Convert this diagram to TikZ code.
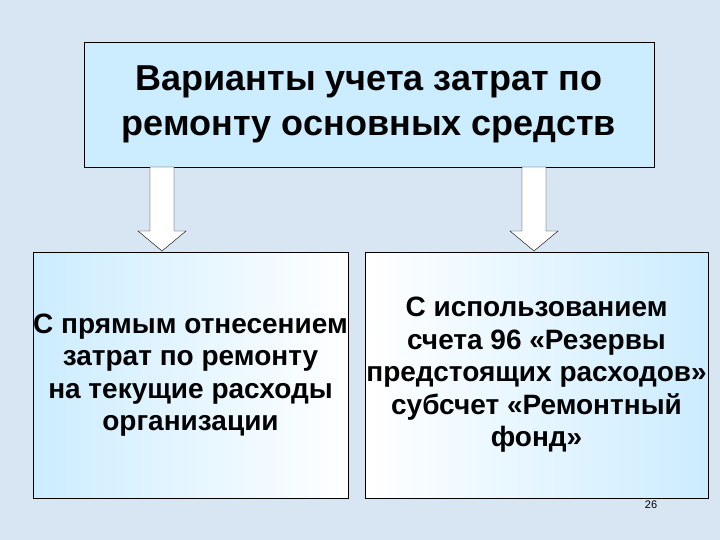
\documentclass[tikz,border=0pt]{standalone}
\usepackage{fontspec}
\setmainfont{Liberation Sans}
\usetikzlibrary{calc, positioning}

\definecolor{slidebg}{RGB}{216,230,244}
\definecolor{boxblue}{RGB}{204,236,255}

\tikzset{
  titlebox/.style={draw=black, fill=boxblue, minimum width=570pt, minimum height=125pt,
    align=center, font=\fontsize{36}{45}\selectfont\bfseries},
  variantbox/.style={draw=black, minimum height=246pt, align=center, inner xsep=0pt,
    font=\fontsize{28}{32.5}\selectfont\bfseries},
  blockarrow/.style={draw=black, fill=white, line join=miter}
}

\begin{document}
\begin{tikzpicture}[x=1pt, y=-1pt]
% Slide background
\fill[slidebg] (0,0) rectangle (720,540);
\useasboundingbox (0,0) rectangle (720,540);

% Title box
\node[titlebox] (title) at (369,104.5) {Варианты учета затрат по\\ ремонту основных средств};

% Two variant boxes
\node[variantbox, minimum width=315pt, left color=boxblue, right color=white] (direct) at (190.5,375)
  {С прямым отнесением\\затрат по ремонту\\на текущие расходы\\организации};
\node[variantbox, minimum width=343pt, left color=white, right color=boxblue] (reserve) at (536.5,375)
  {С использованием\\счета 96 «Резервы\\предстоящих расходов»\\субсчет «Ремонтный\\фонд»};

% Block arrows from the title box
\coordinate (la) at (162,167);
\coordinate (ra) at (534,167);
\foreach \c in {la, ra}
  \draw[blockarrow] (\c) ++(-12,0) -- ++(0,64) -- ++(-12,0) -- ++(24,20)
    -- ++(24,-20) -- ++(-12,0) -- ++(0,-64) -- cycle;

% Page number
\node[font=\fontsize{11}{13}\selectfont] (page) at (651,505) {26};
\end{tikzpicture}
\end{document}
